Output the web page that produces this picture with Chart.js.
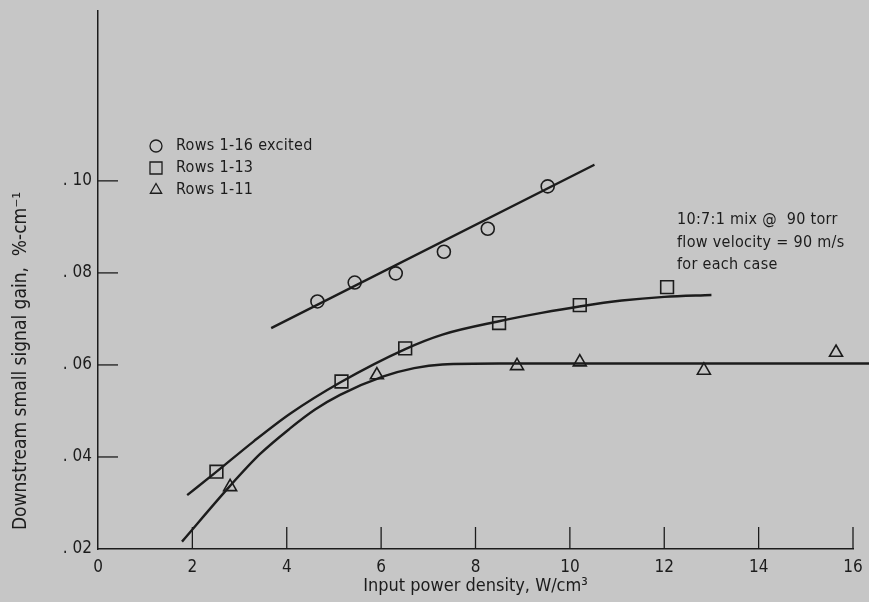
<!DOCTYPE html>
<html>
<head>
<meta charset="utf-8">
<script src="https://cdn.jsdelivr.net/npm/chart.js@4.4.0/dist/chart.umd.min.js"></script>
<style>
  html, body { margin: 0; padding: 0; background: #c6c6c6; }
  #chart { display: block; }
</style>
</head>
<body>
<canvas id="chart" width="869" height="602"></canvas>
<script>
// measured points
const circleX = [4.65, 5.44, 6.31, 7.33, 8.26, 9.53];
const circleY = [0.0738, 0.0779, 0.0799, 0.0846, 0.0896, 0.0988];
const squareX = [2.51, 5.16, 6.51, 8.50, 10.21, 12.06];
const squareY = [0.0368, 0.0564, 0.0636, 0.0691, 0.0730, 0.0769];
const triangleX = [2.80, 5.91, 8.88, 10.21, 12.84, 15.64];
const triangleY = [0.0335, 0.0578, 0.0598, 0.0606, 0.0588, 0.0627];

// faired curves
const circleFitX = [3.67, 10.52];
const circleFitY = [0.0680, 0.1035];
const squareFitX = [1.89, 2.5, 3.3, 4.07, 5.15, 6.5, 7.3, 8.5, 9.4, 10.2, 11.1, 12.0, 13.0];
const squareFitY = [0.0317, 0.0367, 0.0434, 0.0494, 0.0563, 0.0634, 0.0666, 0.0695, 0.0713, 0.0727, 0.0740, 0.0748, 0.0752];
const triangleFitX = [1.78, 2.78, 3.43, 4.07, 4.6, 5.13, 6.05, 6.7, 7.3, 8.5, 10.5, 12.5, 14.5, 16.4];
const triangleFitY = [0.0216, 0.0335, 0.0406, 0.0462, 0.0503, 0.0535, 0.0575, 0.0593, 0.0601, 0.0603, 0.0603, 0.0603, 0.0603, 0.0603];

const legendLabels = ['Rows 1-16 excited', 'Rows 1-13', 'Rows 1-11'];
const xTicks = [0, 2, 4, 6, 8, 10, 12, 14, 16];
const yTicks = [0.02, 0.04, 0.06, 0.08, 0.10];
const noteLines = ['10:7:1 mix @  90 torr', 'flow velocity = 90 m/s', 'for each case'];

const ink = '#1c1c1c';
const fontFam = "'Liberation Sans Narrow', 'DejaVu Sans Condensed', sans-serif";

const toXY = (xs, ys) => xs.map((x, i) => ({ x: x, y: ys[i] }));

function markerSet(xs, ys, style, r) {
  return {
    data: toXY(xs, ys),
    pointStyle: style,
    pointRadius: r,
    pointBorderWidth: 1.6,
    pointBorderColor: ink,
    pointBackgroundColor: 'rgba(0,0,0,0)',
    showLine: false
  };
}

function curveSet(xs, ys) {
  return {
    data: toXY(xs, ys),
    showLine: true,
    borderColor: ink,
    borderWidth: 2.4,
    pointRadius: 0,
    cubicInterpolationMode: 'monotone',
    clip: false
  };
}

// inward tick marks, legend, note, y title
const decorations = {
  id: 'decorations',
  afterDraw(chart) {
    const ctx = chart.ctx;
    const xs = chart.scales.x, ys = chart.scales.y;
    const area = chart.chartArea;
    ctx.save();
    ctx.strokeStyle = ink;
    ctx.lineWidth = 1.3;
    xTicks.slice(1).forEach(v => {
      const px = xs.getPixelForValue(v);
      ctx.beginPath();
      ctx.moveTo(px, area.bottom);
      ctx.lineTo(px, area.bottom - 22);
      ctx.stroke();
    });
    yTicks.slice(1).forEach(v => {
      const py = ys.getPixelForValue(v);
      ctx.beginPath();
      ctx.moveTo(area.left, py);
      ctx.lineTo(area.left + 20, py);
      ctx.stroke();
    });

    // legend
    const styles = ['circle', 'rect', 'triangle'];
    const sizes = [6, 8.5, 6.5];
    ctx.font = '16px ' + fontFam;
    ctx.textBaseline = 'middle';
    ctx.letterSpacing = '0.3px';
    legendLabels.forEach((t, i) => {
      const cy = 146 + i * 22;
      ctx.fillStyle = 'rgba(0,0,0,0)';
      Chart.helpers.drawPoint(ctx, {
        pointStyle: styles[i], radius: sizes[i], borderWidth: 1.6, rotation: 0
      }, 156, cy);
      ctx.fillStyle = ink;
      ctx.fillText(t, 176, cy);
    });

    // note
    ctx.font = '16px ' + fontFam;
    noteLines.forEach((t, i) => {
      ctx.fillText(t, 677, 220 + i * 22.5);
    });

    // y axis title
    ctx.letterSpacing = '0px';
    ctx.translate(21, 361);
    ctx.rotate(-Math.PI / 2);
    ctx.textAlign = 'center';
    ctx.font = '19px ' + fontFam;
    ctx.fillText('Downstream small signal gain,  %-cm\u207B\u00B9', 0, 0);
    ctx.restore();
  }
};

new Chart(document.getElementById('chart'), {
  type: 'scatter',
  data: {
    datasets: [
      markerSet(circleX, circleY, 'circle', 6.5),
      markerSet(squareX, squareY, 'rect', 9),
      markerSet(triangleX, triangleY, 'triangle', 7.5),
      curveSet(circleFitX, circleFitY),
      curveSet(squareFitX, squareFitY),
      curveSet(triangleFitX, triangleFitY)
    ]
  },
  options: {
    responsive: false,
    animation: false,
    layout: { padding: { top: 10, right: 16, left: 0, bottom: 0 } },
    plugins: {
      legend: { display: false },
      tooltip: { enabled: false }
    },
    scales: {
      x: {
        type: 'linear',
        min: 0,
        max: 16,
        afterBuildTicks: s => { s.ticks = xTicks.map(v => ({ value: v })); },
        afterFit: s => { s.height = 53; },
        grid: { display: false },
        border: { display: true, color: ink, width: 1.5 },
        ticks: {
          color: ink,
          padding: 0,
          font: { family: fontFam, size: 17 },
          callback: v => String(v)
        },
        title: {
          display: true,
          text: 'Input power density, W/cm\u00B3',
          color: ink,
          font: { family: fontFam, size: 18 },
          padding: { top: 0, bottom: 5 }
        }
      },
      y: {
        type: 'linear',
        min: 0.02,
        max: 0.137,
        afterBuildTicks: s => { s.ticks = yTicks.map(v => ({ value: v })); },
        afterFit: s => { s.width = 98; },
        grid: { display: false },
        border: { display: true, color: ink, width: 1.5 },
        ticks: {
          color: ink,
          padding: -2,
          font: { family: fontFam, size: 17 },
          callback: v => v.toFixed(2).replace(/^0/, '').replace('.', '. ')
        }
      }
    }
  },
  plugins: [decorations]
});
</script>
</body>
</html>
